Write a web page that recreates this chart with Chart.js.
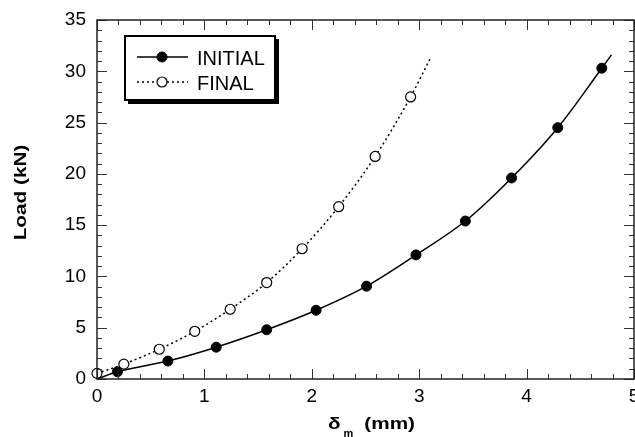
<!DOCTYPE html>
<html lang="en">

<head>
  <meta charset="UTF-8">
  <title>Load vs deflection</title>
  <script src="https://cdn.jsdelivr.net/npm/chart.js"></script>
  <style>
    html, body { margin: 0; padding: 0; background: #fff; }
    #box { width: 635px; height: 437px; }
  </style>
</head>

<body>
  <div id="box">
    <canvas id="chartLoad"></canvas>
  </div>
</body>

</html>
<script>
  // values (delta_m in mm, load in kN)
  // first / last entries are the ends of the fitted curve, drawn without a marker
  const initialX = [0, 0.19, 0.66, 1.11, 1.58, 2.04, 2.51, 2.97, 3.43, 3.86, 4.29, 4.70, 4.79];
  const initialY = [0, 0.7, 1.75, 3.1, 4.8, 6.7, 9.05, 12.1, 15.4, 19.6, 24.5, 30.3, 31.6];
  const finalX = [0, 0.25, 0.58, 0.91, 1.24, 1.58, 1.91, 2.25, 2.59, 2.92, 3.11];
  const finalY = [0.55, 1.45, 2.9, 4.65, 6.8, 9.4, 12.7, 16.8, 21.7, 27.5, 31.4];
  const initialMarks = [0, 5, 5, 5, 5, 5, 5, 5, 5, 5, 5, 5, 0];
  const finalMarks = [5, 5, 5, 5, 5, 5, 5, 5, 5, 5, 0];

  const xTicks = [0, 1, 2, 3, 4, 5];
  const yTicks = [0, 5, 10, 15, 20, 25, 30, 35];
  const seriesNames = ['INITIAL', 'FINAL'];

  function toPoints(xs, ys) {
    return xs.map((x, i) => ({ x: x, y: ys[i] }));
  }

  const FONT = "'Liberation Sans', Arial, sans-serif";

  // frame, inward ticks, axis titles and the boxed legend
  const framePlugin = {
    id: 'frame',
    afterDraw(chart) {
      const ctx = chart.ctx;
      const a = chart.chartArea;
      const sx = chart.scales.x, sy = chart.scales.y;
      ctx.save();
      ctx.strokeStyle = '#333';
      ctx.lineWidth = 1;
      // minor + major ticks on all four sides
      for (let i = 0; i <= 25; i++) {
        const v = i * 0.2;
        const px = Math.round(sx.getPixelForValue(v)) + 0.5;
        const len = (i % 5 === 0) ? 10 : 5;
        ctx.beginPath();
        ctx.moveTo(px, a.bottom); ctx.lineTo(px, a.bottom - len);
        ctx.moveTo(px, a.top); ctx.lineTo(px, a.top + len);
        ctx.stroke();
      }
      for (let i = 0; i <= 35; i++) {
        const py = Math.round(sy.getPixelForValue(i)) + 0.5;
        const len = (i % 5 === 0) ? 10 : 5;
        ctx.beginPath();
        ctx.moveTo(a.left, py); ctx.lineTo(a.left + len, py);
        ctx.moveTo(a.right, py); ctx.lineTo(a.right - len, py);
        ctx.stroke();
      }
      ctx.lineWidth = 1.5;
      ctx.strokeStyle = '#222';
      ctx.strokeRect(a.left, a.top, a.right - a.left, a.bottom - a.top);

      // y title
      ctx.fillStyle = '#000';
      ctx.font = 'bold 17px ' + FONT;
      ctx.save();
      ctx.translate(26, (a.top + a.bottom) / 2 - 7);
      ctx.rotate(-Math.PI / 2);
      ctx.scale(1.22, 1);
      ctx.textAlign = 'center';
      ctx.textBaseline = 'alphabetic';
      ctx.fillText('Load (kN)', 0, 0);
      ctx.restore();

      // x title: delta with subscript m
      ctx.save();
      const k = 1.22;
      ctx.font = 'bold 17px ' + FONT;
      const wD = ctx.measureText('δ').width * k;
      const wP = ctx.measureText('(mm)').width * k;
      ctx.font = 'bold 11px ' + FONT;
      const wM = ctx.measureText('m').width;
      const total = wD + 3 + wM + 11 + wP;
      let x0 = (a.left + a.right) / 2 + 6 - total / 2;
      ctx.textAlign = 'left';
      ctx.font = 'bold 17px ' + FONT;
      ctx.save(); ctx.translate(x0, 429); ctx.scale(k, 1); ctx.fillText('δ', 0, 0); ctx.restore();
      x0 += wD + 3;
      ctx.font = 'bold 11px ' + FONT;
      ctx.fillText('m', x0, 437);
      x0 += wM + 11;
      ctx.font = 'bold 17px ' + FONT;
      ctx.save(); ctx.translate(x0, 429); ctx.scale(k, 1); ctx.fillText('(mm)', 0, 0); ctx.restore();
      ctx.restore();

      // legend box with drop shadow
      const lx = 125, ly = 36, lw = 150, lh = 64;
      ctx.fillStyle = '#000';
      ctx.fillRect(lx + 3, ly + 3, lw + 1, lh + 1);
      ctx.fillStyle = '#fff';
      ctx.fillRect(lx, ly, lw, lh);
      ctx.lineWidth = 2;
      ctx.strokeStyle = '#000';
      ctx.strokeRect(lx, ly, lw, lh);
      const rows = [57, 82];
      chart.data.datasets.forEach((ds, i) => {
        const y = rows[i];
        ctx.beginPath();
        ctx.lineWidth = ds.borderWidth;
        ctx.setLineDash(ds.borderDash || []);
        ctx.strokeStyle = '#000';
        ctx.moveTo(137, y); ctx.lineTo(188, y);
        ctx.stroke();
        ctx.setLineDash([]);
        ctx.beginPath();
        ctx.arc(162, y, 5, 0, Math.PI * 2);
        ctx.fillStyle = ds.pointBackgroundColor;
        ctx.fill();
        ctx.lineWidth = ds.pointBorderWidth;
        ctx.stroke();
        ctx.fillStyle = '#000';
        ctx.font = '20px ' + FONT;
        ctx.textAlign = 'left';
        ctx.fillText(ds.label, 197, y + 8);
      });
      ctx.restore();
    }
  };

  const ctxLoad = document.getElementById('chartLoad');
  new Chart(ctxLoad, {
    type: 'scatter',
    data: {
      datasets: [
        {
          label: seriesNames[0],
          data: toPoints(initialX, initialY),
          showLine: true,
          borderColor: '#000',
          borderWidth: 1.5,
          pointRadius: initialMarks,
          pointBackgroundColor: '#000',
          pointBorderColor: '#000',
          pointBorderWidth: 1,
          cubicInterpolationMode: 'monotone',
          clip: false
        },
        {
          label: seriesNames[1],
          data: toPoints(finalX, finalY),
          showLine: true,
          borderColor: '#000',
          borderWidth: 1.5,
          borderDash: [2, 3],
          pointRadius: finalMarks,
          pointBackgroundColor: '#fff',
          pointBorderColor: '#000',
          pointBorderWidth: 1.2,
          cubicInterpolationMode: 'monotone',
          clip: false
        }
      ]
    },
    options: {
      responsive: true,
      maintainAspectRatio: false,
      animation: false,
      layout: { autoPadding: false, padding: { left: 0, top: 20, right: 1, bottom: 0 } },
      plugins: {
        legend: { display: false },
        tooltip: { enabled: false }
      },
      scales: {
        x: {
          type: 'linear',
          min: 0,
          max: 5,
          afterBuildTicks: (s) => { s.ticks = xTicks.map(v => ({ value: v })); },
          afterFit: (s) => { s.height = 58; s.paddingLeft = 0; s.paddingRight = 0; },
          grid: { display: false, drawTicks: false },
          border: { display: false },
          ticks: { color: '#000', padding: 6, font: { family: FONT, size: 19 } }
        },
        y: {
          type: 'linear',
          min: 0,
          max: 35,
          afterBuildTicks: (s) => { s.ticks = yTicks.map(v => ({ value: v })); },
          afterFit: (s) => { s.width = 97; s.paddingTop = 0; s.paddingBottom = 0; },
          grid: { display: false, drawTicks: false },
          border: { display: false },
          ticks: { color: '#000', padding: 11, font: { family: FONT, size: 19 } }
        }
      }
    },
    plugins: [framePlugin]
  });
</script>
